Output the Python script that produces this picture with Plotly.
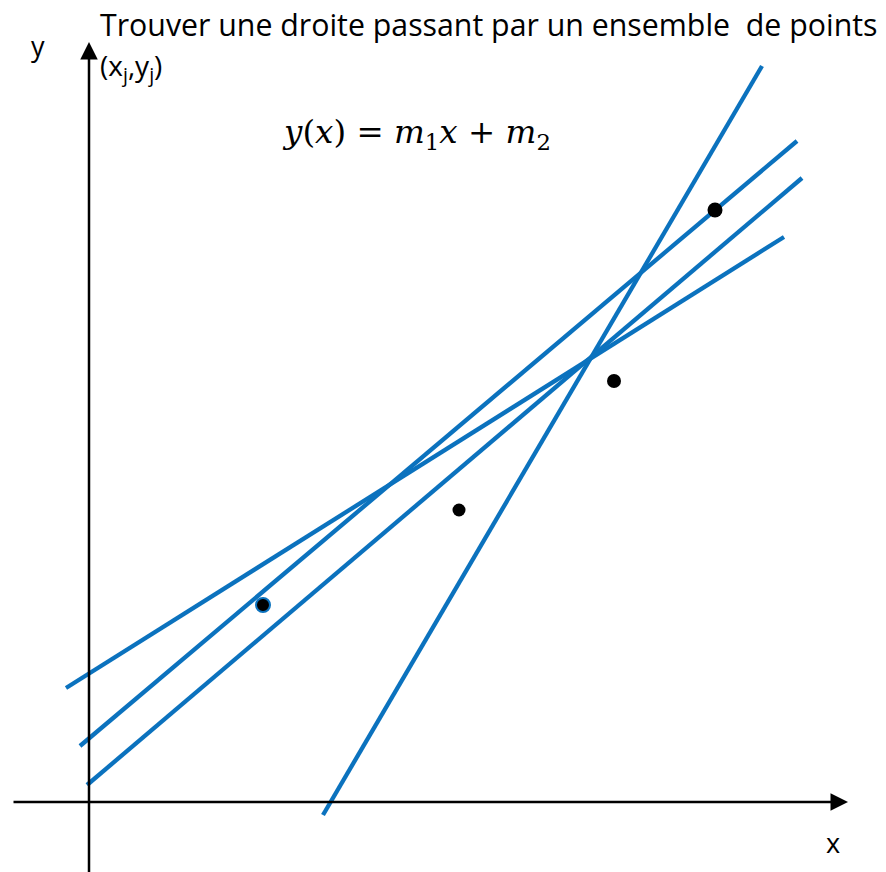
import plotly.graph_objects as go

# Sample points (x_j, y_j)
pts_x = [174, 370, 525, 626]
pts_y = [197, 292, 421, 592]

# Candidate straight lines, given by their two end points
lines_x = [[234, 673], [-23, 695], [-9, 708], [-2, 713]]
lines_y = [[-13, 736], [114, 565], [56, 661], [17, 624]]

BLUE = "#0B72BE"

fig = go.Figure()

for lx, ly in zip(lines_x, lines_y):
    fig.add_trace(go.Scatter(x=lx, y=ly, mode="lines",
                             line=dict(color=BLUE, width=4.3),
                             showlegend=False, hoverinfo="skip"))

fig.add_trace(go.Scatter(
    x=pts_x, y=pts_y, mode="markers", showlegend=False, hoverinfo="skip",
    marker=dict(color="black", opacity=1, size=[14, 13, 14, 15],
                line=dict(color=[BLUE, "black", "black", "black"], width=[2, 0, 0, 0]))))

# Coordinate axes with arrow heads
fig.add_annotation(x=759, y=0, ax=-77, ay=0, xref="x", yref="y", axref="x", ayref="y",
                   showarrow=True, arrowhead=2, arrowsize=1.4, arrowwidth=2.5,
                   arrowcolor="black", text="")
fig.add_annotation(x=0, y=760, ax=0, ay=-72, xref="x", yref="y", axref="x", ayref="y",
                   showarrow=True, arrowhead=2, arrowsize=1.4, arrowwidth=2.5,
                   arrowcolor="black", text="")

sans = "Open Sans, Noto Sans, sans-serif"
fig.add_annotation(x=9, y=778, xref="x", yref="y", xanchor="left", yanchor="middle",
                   text="Trouver une droite passant par un ensemble  de points",
                   showarrow=False, font=dict(family=sans, size=30.3, color="black"))
fig.add_annotation(x=9, y=735, xref="x", yref="y", xanchor="left", yanchor="middle",
                   text="(x<sub>j</sub>,y<sub>j</sub>)",
                   showarrow=False, font=dict(family=sans, size=28, color="black"))
fig.add_annotation(x=-51, y=757, xref="x", yref="y", xanchor="center", yanchor="middle",
                   text="y", showarrow=False, font=dict(family=sans, size=27, color="black"))
fig.add_annotation(x=744, y=-40, xref="x", yref="y", xanchor="center", yanchor="middle",
                   text="x", showarrow=False, font=dict(family=sans, size=27, color="black"))
fig.add_annotation(x=327, y=668, xref="x", yref="y", xanchor="center", yanchor="middle",
                   text="<i>y</i>(<i>x</i>) = <i>m</i><sub>1</sub><i>x</i> + <i>m</i><sub>2</sub>",
                   showarrow=False,
                   font=dict(family="DejaVu Serif, Liberation Serif, serif", size=32.5, color="black"))

fig.update_xaxes(range=[-89, 797], visible=False, fixedrange=True)
fig.update_yaxes(range=[-70, 802], visible=False, fixedrange=True)
fig.update_layout(width=886, height=872, margin=dict(l=0, r=0, t=0, b=0),
                  plot_bgcolor="white", paper_bgcolor="white")

fig.write_html("out.html")
